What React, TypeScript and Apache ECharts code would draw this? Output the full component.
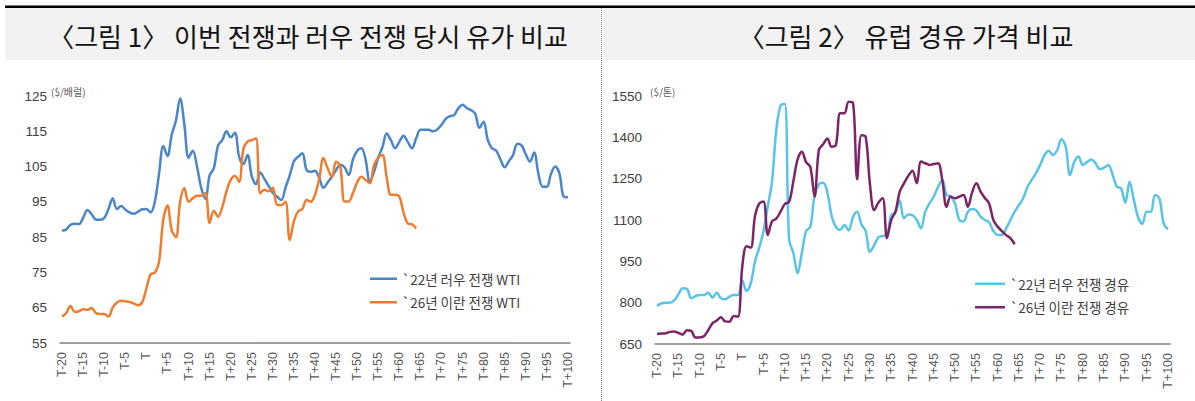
import React, { useEffect, useRef } from "react";
import * as echarts from "echarts";

const categories: string[] = [];
for (let k = -20; k <= 100; k++) categories.push(k === 0 ? "T" : k < 0 ? `T${k}` : `T+${k}`);

const wti22 = [
  86.8, 87.2, 88.5, 88.8, 88.7, 90.5, 92.7, 91.5, 90.0, 89.9,
  90.4, 93.0, 96.0, 93.0, 93.8, 92.8, 92.0, 91.6, 92.2, 92.9,
  93.0, 92.0, 95.0, 103.0, 110.8, 108.0, 114.0, 118.0, 124.3, 117.0,
  107.5, 109.5, 105.0, 99.0, 95.8, 102.5, 104.5, 111.0, 112.5, 115.0,
  113.3, 114.6, 107.8, 105.7, 108.3, 102.3, 100.0, 103.3, 101.5, 99.5,
  97.5, 96.5, 95.5, 99.0, 102.5, 106.5, 107.8, 108.8, 104.0, 103.5,
  103.8, 101.8, 99.0, 100.5, 102.1, 104.0, 105.5, 104.8, 102.6, 107.0,
  109.5, 110.2, 107.0, 100.7, 103.5, 107.5, 110.5, 114.4, 112.5, 110.2,
  112.0, 113.7, 112.0, 110.2, 113.0, 115.4, 115.4, 115.4, 115.0, 115.5,
  116.8, 118.5, 119.3, 119.6, 121.5, 122.5, 121.6, 121.0, 120.0, 116.0,
  117.7, 112.5, 110.2, 109.5, 107.0, 104.8, 106.5, 108.3, 111.5, 111.0,
  108.5, 106.4, 109.0, 103.0, 99.3, 99.3, 103.0, 105.0, 103.0, 96.5,
  96.3,
];

const wti26 = [
  62.5, 63.5, 65.5, 63.8, 64.0, 64.6, 64.4, 64.9, 63.5, 63.2,
  63.2, 62.5, 65.0, 66.5, 67.0, 66.8, 66.6, 66.2, 65.7, 66.5,
  70.5, 74.5, 74.9, 78.0, 90.0, 94.0, 87.0, 85.0, 95.0, 98.9,
  95.0, 96.0, 96.7, 96.7, 97.5, 89.0, 92.5, 90.8, 93.5, 98.0,
  101.2, 102.3, 100.7, 110.0, 112.1, 112.5, 113.0, 97.4, 98.4, 98.0,
  99.0, 94.1, 94.1, 95.0, 84.2, 89.5, 92.3, 93.0, 95.5, 95.0,
  97.0, 101.5, 107.4, 104.5, 102.1, 106.4, 105.0, 95.1, 95.1, 97.5,
  100.5, 102.1, 101.2, 100.3, 105.5, 107.5, 108.3, 102.0, 97.0, 97.0,
  96.5, 92.0, 88.9, 88.6, 87.5,
];

const diesel22 = [
  788, 798, 800, 800, 808, 830, 852, 850, 816, 824,
  828, 828, 836, 818, 836, 816, 812, 822, 828, 828,
  880, 842, 870, 950, 1000, 1060, 1150, 1240, 1427, 1515,
  1521, 1030, 980, 907, 980, 1060, 1075, 1190, 1230, 1235,
  1200, 1115, 1075, 1064, 1082, 1062, 1110, 1130, 1085, 1060,
  985, 1009, 1038, 1042, 1045, 1118, 1128, 1170, 1106, 1120,
  1118, 1100, 1070, 1130, 1160, 1185, 1220, 1245, 1191, 1185,
  1160, 1100, 1095, 1130, 1140, 1135, 1112, 1100, 1092, 1060,
  1046, 1046, 1070, 1100, 1130, 1154, 1179, 1220, 1245, 1270,
  1300, 1335, 1351, 1336, 1354, 1393, 1366, 1263, 1310, 1330,
  1300, 1310, 1320, 1306, 1285, 1290, 1300, 1265, 1221, 1215,
  1163, 1239, 1173, 1110, 1086, 1130, 1130, 1191, 1179, 1088,
  1066,
];

const diesel26 = [
  686, 688, 689, 694, 695, 690, 684, 700, 698, 674,
  674, 678, 700, 725, 735, 747, 732, 731, 752, 749,
  930, 1005, 1000, 1115, 1160, 1167, 1046, 1095, 1105, 1130,
  1158, 1166, 1240, 1320, 1348, 1310, 1292, 1185, 1354, 1375,
  1396, 1366, 1372, 1487, 1487, 1529, 1526, 1248, 1408, 1402,
  1230, 1136, 1163, 1179, 1034, 1100, 1130, 1203, 1233, 1260,
  1279, 1233, 1312, 1306, 1300, 1303, 1306, 1245, 1148, 1185,
  1179, 1185, 1191, 1148, 1200, 1233, 1203, 1180, 1160, 1100,
  1076, 1060, 1045, 1034, 1012,
];

const names = {
  wti22: "`22년 러우 전쟁 WTI",
  wti26: "`26년 이란 전쟁 WTI",
  d22: "`22년 러우 전쟁 경유",
  d26: "`26년 이란 전쟁 경유",
};

const FONT = "'Liberation Sans', Arial, 'Noto Sans CJK KR', sans-serif";
const KFONT = "'Noto Sans CJK KR', sans-serif";

export default function App() {
  const ref = useRef<HTMLDivElement>(null);
  useEffect(() => {
    if (!ref.current) return;
    const chart = echarts.init(ref.current, undefined, { renderer: "svg" });
    const xAxisBase = (gridIndex: number) => ({
      type: "category",
      gridIndex,
      data: categories,
      boundaryGap: true,
      axisLine: { lineStyle: { color: "#7f7f7f", width: 1.5 } },
      axisTick: { show: false },
      splitLine: { show: false },
      axisLabel: {
        interval: 4,
        rotate: 90,
        fontSize: 12.5,
        color: "#595959",
        margin: 9,
        fontFamily: FONT,
      },
    });
    const yAxisBase = (gridIndex: number, min: number, max: number, interval: number) => ({
      type: "value",
      gridIndex,
      min,
      max,
      interval,
      splitLine: { show: false },
      axisLine: { show: false },
      axisTick: { show: false },
      axisLabel: {
        fontSize: 13.5,
        color: "#404040",
        margin: 13,
        fontFamily: FONT,
        formatter: (v: number) => String(v),
      },
    });
    const lineSeries = (name: string, data: number[], color: string, idx: number) => ({
      type: "line",
      name,
      data,
      xAxisIndex: idx,
      yAxisIndex: idx,
      symbol: "none",
      showSymbol: false,
      smooth: 0.35,
      lineStyle: { color, width: 2.5 },
      itemStyle: { color },
    });
    const legendBase = (left: number, top: number, data: string[], itemWidth: number) => ({
      orient: "vertical",
      left,
      top,
      data,
      icon: "rect",
      itemWidth,
      itemHeight: 2.5,
      itemGap: 10,
      textStyle: { fontSize: 13.5, color: "#404040", fontFamily: KFONT },
    });
    chart.setOption({
      animation: false,
      backgroundColor: "#ffffff",
      grid: [
        { left: 60, top: 96, width: 510, height: 247 },
        { left: 655, top: 96, width: 515, height: 248 },
      ],
      xAxis: [xAxisBase(0), xAxisBase(1)],
      yAxis: [yAxisBase(0, 55, 125, 10), yAxisBase(1, 650, 1550, 150)],
      legend: [
        legendBase(365, 267, [names.wti22, names.wti26], 27),
        legendBase(970, 272, [names.d22, names.d26], 30),
      ],
      series: [
        lineSeries(names.wti22, wti22, "#4a86c8", 0),
        lineSeries(names.wti26, wti26, "#ed7d31", 0),
        lineSeries(names.d22, diesel22, "#5ac4e6", 1),
        lineSeries(names.d26, diesel26, "#7b2567", 1),
      ],
      graphic: [
        { type: "rect", shape: { x: 5, y: 5.5, width: 1190, height: 2.5 }, style: { fill: "#000000" } },
        { type: "rect", shape: { x: 5, y: 8, width: 595, height: 52 }, style: { fill: "#f2f2f2" } },
        { type: "rect", shape: { x: 604, y: 8, width: 591, height: 52 }, style: { fill: "#f2f2f2" } },
        {
          type: "line",
          shape: { x1: 601.5, y1: 8, x2: 601.5, y2: 401 },
          style: { stroke: "#7f7f7f", lineWidth: 1, lineDash: [1, 1] },
        },
        {
          type: "text",
          x: 308,
          y: 35,
          style: {
            text: "〈그림 1〉 이번 전쟁과 러우 전쟁 당시 유가 비교",
            font: `26px ${KFONT}`,
            fill: "#111111",
            textAlign: "center",
            textVerticalAlign: "middle",
          },
        },
        {
          type: "text",
          x: 906,
          y: 35,
          style: {
            text: "〈그림 2〉 유럽 경유 가격 비교",
            font: `26px ${KFONT}`,
            fill: "#111111",
            textAlign: "center",
            textVerticalAlign: "middle",
          },
        },
        {
          type: "text",
          x: 51,
          y: 91,
          style: { text: "($/배럴)", font: `10px ${KFONT}`, fill: "#595959", textVerticalAlign: "middle" },
        },
        {
          type: "text",
          x: 650,
          y: 91,
          style: { text: "($/톤)", font: `10px ${KFONT}`, fill: "#595959", textVerticalAlign: "middle" },
        },
      ],
    });
    return () => chart.dispose();
  }, []);
  return (
    <div
      ref={ref}
      style={{ position: "absolute", left: 0, top: 0, width: 1195, height: 401 }}
    />
  );
}
